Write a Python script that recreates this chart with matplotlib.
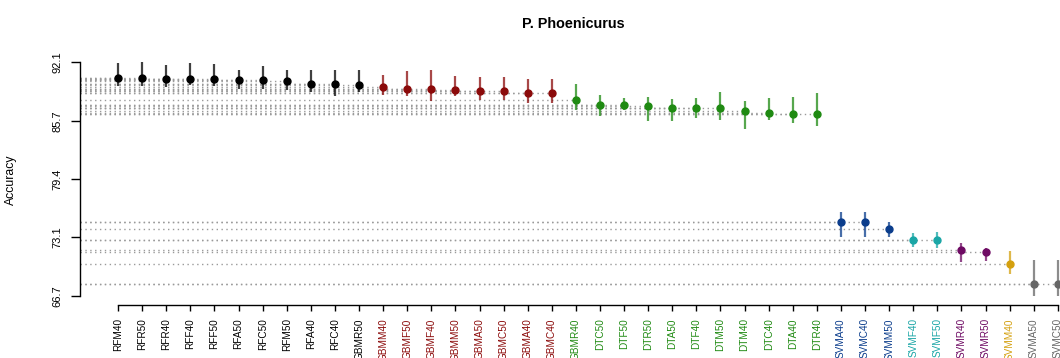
import matplotlib
matplotlib.use("Agg")
import matplotlib.pyplot as plt
from matplotlib.colors import to_rgba

plt.rcParams['font.family'] = ['Liberation Sans', 'DejaVu Sans']

# models, sorted by mean accuracy
names = ["RFM40", "RFR50", "RFR40", "RFF40", "RFF50", "RFA50", "RFC50", "RFM50",
         "RFA40", "RFC40", "GBMR50",
         "GBMM40", "GBMF50", "GBMF40", "GBMM50", "GBMA50", "GBMC50", "GBMA40", "GBMC40",
         "GBMR40", "DTC50", "DTF50", "DTR50", "DTA50", "DTF40", "DTM50", "DTM40",
         "DTC40", "DTA40", "DTR40",
         "SVMA40", "SVMC40", "SVMM50", "SVMF40", "SVMF50", "SVMR40", "SVMR50",
         "SVMM40", "SVMA50", "SVMC50"]
acc = [90.43, 90.43, 90.35, 90.35, 90.25, 90.14, 90.14, 90.03, 89.80, 89.77, 89.67,
       89.41, 89.23, 89.16, 89.08, 88.97, 88.97, 88.79, 88.79,
       87.99, 87.49, 87.45, 87.38, 87.19, 87.15, 87.12, 86.83, 86.57, 86.54, 86.46,
       74.76, 74.76, 73.96, 72.80, 72.76, 71.68, 71.53, 70.18, 67.97, 67.97]
upper = [92.00, 92.10, 91.77, 92.06, 91.90, 91.30, 91.70, 91.30, 91.30, 91.30, 91.26,
         90.72, 91.15, 91.26, 90.60, 90.54, 90.54, 90.25, 90.25,
         89.70, 88.60, 88.25, 88.36, 88.14, 88.25, 88.90, 87.85, 88.25, 88.36, 88.79,
         75.78, 75.78, 74.76, 73.53, 73.60, 72.44, 71.90, 71.64, 70.62, 70.62]
lower = [89.50, 89.50, 89.45, 89.60, 89.50, 89.26, 89.20, 89.15, 88.86, 88.43, 88.86,
         88.60, 88.43, 87.88, 88.43, 88.00, 88.00, 87.70, 87.70,
         86.97, 86.24, 86.90, 85.70, 85.70, 86.07, 85.80, 84.87, 85.80, 85.52, 85.15,
         73.09, 73.09, 73.16, 72.00, 71.90, 70.43, 70.50, 69.06, 66.70, 66.70]
group = ["RF"] * 11 + ["GBM"] * 8 + ["DT"] * 11 + ["SVMb"] * 3 + ["SVMc"] * 2 + \
        ["SVMp"] * 2 + ["SVMg"] + ["SVMk"] * 2
colors = {"RF": "#000000", "GBM": "#8b0a0a", "DT": "#1f8a12", "SVMb": "#0b3d8c",
          "SVMc": "#1aa6a6", "SVMp": "#6e0a63", "SVMg": "#d4a00f", "SVMk": "#666666"}
yticks = [66.7, 73.1, 79.4, 85.7, 92.1]

fig = plt.figure(figsize=(10.6, 3.58), dpi=100)
ax = fig.add_axes([0.0755, 0.148, 0.9245, 0.70])

x = list(range(len(names)))
xmin = -1.58
for i in x:
    c = colors[group[i]]
    ax.hlines(acc[i], xmin, i, colors="#9a9a9a", linestyles=(0, (1, 2.5)),
              linewidth=1.0, zorder=1)
    ax.vlines(i, lower[i], upper[i], colors=[to_rgba(c, 0.75)], linewidth=1.6, zorder=2)
    ax.plot(i, acc[i], "o", color=c, markersize=5, zorder=3)

ax.set_xlim(xmin, 39.09)
ax.set_ylim(65.71, 92.97)
for s in ["top", "right"]:
    ax.spines[s].set_visible(False)
ax.spines["left"].set_bounds(66.7, 92.1)
ax.spines["bottom"].set_bounds(0, 39)
ax.spines["left"].set_linewidth(1.0)
ax.spines["bottom"].set_linewidth(1.0)

ax.set_yticks(yticks)
ax.set_yticklabels([f"{v:.1f}" for v in yticks], rotation=90, va="center", fontsize=8)
ax.set_xticks(x)
ax.set_xticklabels(names, rotation=90, fontsize=7.2)
for lbl, g in zip(ax.get_xticklabels(), group):
    lbl.set_color(colors[g])
ax.tick_params(axis="y", length=6.5, width=1.0, pad=6)
ax.tick_params(axis="x", length=4, width=1.0, pad=5.5)

ax.set_ylabel("Accuracy", fontsize=8.8)
ax.yaxis.set_label_coords(-0.064, 0.5)
fig.text(0.541, 0.933, "P. Phoenicurus", ha="center", va="center",
         fontsize=10.4, fontweight="bold")

fig.savefig("out.png", dpi=100)
